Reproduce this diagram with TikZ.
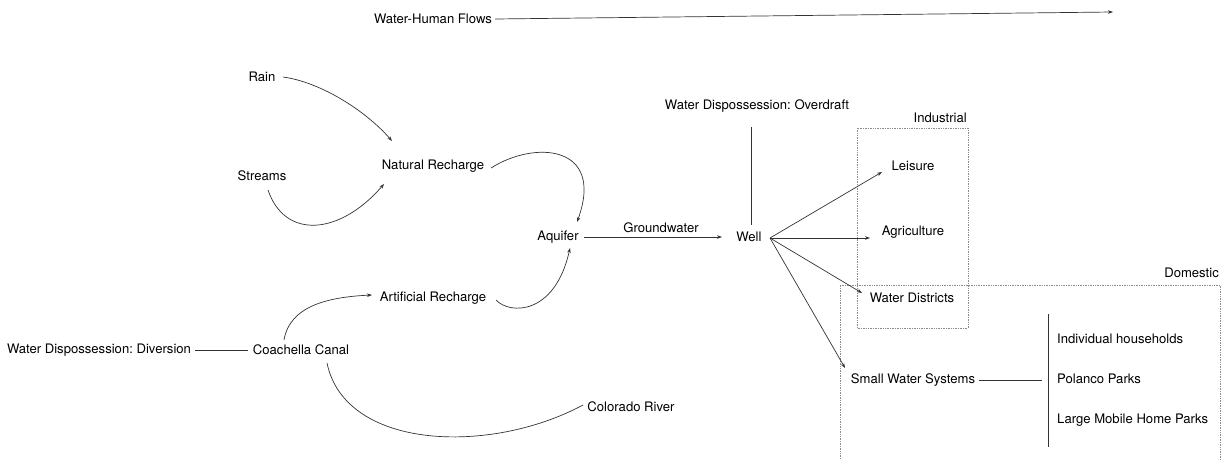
\documentclass[tikz,border=0pt]{standalone}
\usepackage{fontspec}
\setmainfont{TeX Gyre Heros}
\usetikzlibrary{arrows.meta}
\frenchspacing
\begin{document}
\begin{tikzpicture}[x=1pt,y=-1pt,
  lbl/.style={font=\fontsize{13.1}{15}\selectfont, inner sep=1pt},
  conn/.style={draw=black!80, line width=0.7pt},
  arr/.style={conn, -{Stealth[length=5pt,width=3.6pt]}},
  grp/.style={draw=black!45, densely dotted, line width=0.7pt}]
\useasboundingbox (0,0) rectangle (1225,460);
% top
\node[lbl] (flows) at (433,19) {Water-Human Flows};
\coordinate (flowsend) at (1113,12);
\draw[arr] (flows.east) ++(2,0) -- (flowsend);
% left
\node[lbl] (rain) at (262,77) {Rain};
\node[lbl] (streams) at (262,176) {Streams};
\node[lbl] (nat) at (433,166) {Natural Recharge};
\node[lbl] (aq) at (558,237) {Aquifer};
\node[lbl] (art) at (433,298) {Artificial Recharge};
\node[lbl] (div) at (99,350) {Water Dispossession: Diversion};
\node[lbl] (cc) at (301,350) {Coachella Canal};
\node[lbl] (col) at (631,407) {Colorado River};
\node[lbl] (well) at (749,237) {Well};
\node[lbl] (od) at (757,106) {Water Dispossession: Overdraft};
\node[lbl] (gw) at (661,228) {Groundwater};
% groups
\node[lbl, anchor=base east] (ind) at (968,122) {Industrial};
\draw[grp] (857,128) rectangle (968,328);
\node[lbl, anchor=base east] (dom) at (1220,277) {Domestic};
\draw[grp] (840,462) -- (840,285) -- (1220,285) -- (1220,462);
\node[lbl] (leis) at (913,166) {Leisure};
\node[lbl] (agr) at (913,232) {Agriculture};
\node[lbl] (wd) at (912,298) {Water Districts};
\node[lbl] (sws) at (913,380) {Small Water Systems};
\node[lbl, anchor=west] (ih) at (1056,339) {Individual households};
\node[lbl, anchor=west] (pp) at (1056,379) {Polanco Parks};
\node[lbl, anchor=west] (lm) at (1056,420) {Large Mobile Home Parks};
\coordinate (bartop) at (1048,314);
\coordinate (barbot) at (1048,447);
\draw[conn] (bartop) -- (barbot);
\coordinate (swsend) at (1042,380);
\draw[conn] (sws.east) ++(3,0) -- (swsend);
% curves
\draw[arr] (283,77) .. controls (320,82) and (365,110) .. (392,141);
\draw[arr] (268,190) .. controls (285,240) and (340,235) .. (384,184);
\draw[arr] (491,168) .. controls (535,140) and (605,145) .. (577,222);
\draw[arr] (496,300) .. controls (510,315) and (555,315) .. (570,248);
\draw[arr] (284,340) .. controls (290,305) and (330,297) .. (372,295);
\draw[conn] (327,363) .. controls (345,450) and (490,455) .. (583,405);
\coordinate (divend) at (248,350);
\draw[conn] (div.east) ++(3,0) -- (divend);
% well
\coordinate (aqend) at (722,237);
\draw[arr] (aq.east) ++(4,0) -- (aqend);
\coordinate (odtop) at (751,127);
\coordinate (odbot) at (751,225);
\draw[conn] (odtop) -- (odbot);
\coordinate (wo) at (770,238);
\draw[arr] (wo) -- (882,172);
\draw[arr] (wo) -- (870,238);
\draw[arr] (wo) -- (862,293);
\draw[arr] (wo) -- (845,368);
\end{tikzpicture}
\end{document}
